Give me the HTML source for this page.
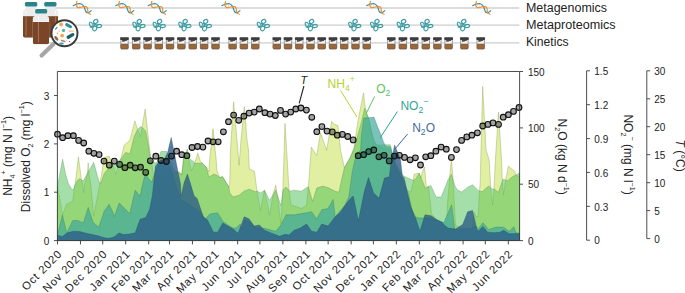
<!DOCTYPE html>
<html><head><meta charset="utf-8"><style>
html,body{margin:0;padding:0;background:#fff;}
svg{display:block;}
</style></head><body>
<svg width="685" height="293" viewBox="0 0 685 293" style="font-family:'Liberation Sans',sans-serif">
<rect width="685" height="293" fill="#fff"/>
<g id="legend-lines" stroke="#dcdcdc" stroke-width="1.8">
<line x1="45" y1="8.0" x2="519.3" y2="8.0"/>
<line x1="45" y1="25.1" x2="519.3" y2="25.1"/>
<line x1="45" y1="42.8" x2="519.3" y2="42.8"/>
</g>
<line x1="78.00" y1="4.30" x2="77.00" y2="7.20" stroke="#f0c8a0" stroke-width="0.6"/><line x1="80.00" y1="3.90" x2="79.70" y2="7.40" stroke="#f0c8a0" stroke-width="0.6"/><line x1="82.70" y1="4.80" x2="83.30" y2="6.90" stroke="#f0c8a0" stroke-width="0.6"/><line x1="84.90" y1="9.00" x2="87.10" y2="8.20" stroke="#f0c8a0" stroke-width="0.6"/><line x1="85.80" y1="11.40" x2="87.80" y2="10.80" stroke="#f0c8a0" stroke-width="0.6"/><line x1="87.70" y1="12.60" x2="88.30" y2="13.00" stroke="#f0c8a0" stroke-width="0.6"/><path d="M73.20,5.70 C73.83,5.42 75.75,4.33 77.00,4.00 C78.25,3.67 79.58,3.37 80.70,3.70 C81.82,4.03 82.97,5.00 83.70,6.00 C84.43,7.00 84.70,8.70 85.10,9.70 C85.50,10.70 85.57,11.50 86.10,12.00 C86.63,12.50 87.45,12.92 88.30,12.70 C89.15,12.48 90.72,11.03 91.20,10.70" fill="none" stroke="#2e8e9b" stroke-width="1.15" stroke-linecap="round"/><path d="M76.90,1.30 C76.80,1.72 76.38,3.02 76.30,3.80 C76.22,4.58 76.05,5.33 76.40,6.00 C76.75,6.67 77.38,7.67 78.40,7.80 C79.42,7.93 81.15,6.97 82.50,6.80 C83.85,6.63 85.63,6.35 86.50,6.80 C87.37,7.25 87.45,8.50 87.70,9.50 C87.95,10.50 87.52,12.02 88.00,12.80 C88.48,13.58 90.17,13.97 90.60,14.20" fill="none" stroke="#ef8a2e" stroke-width="1.15" stroke-linecap="round"/>
<line x1="120.50" y1="4.30" x2="119.50" y2="7.20" stroke="#f0c8a0" stroke-width="0.6"/><line x1="122.50" y1="3.90" x2="122.20" y2="7.40" stroke="#f0c8a0" stroke-width="0.6"/><line x1="125.20" y1="4.80" x2="125.80" y2="6.90" stroke="#f0c8a0" stroke-width="0.6"/><line x1="127.40" y1="9.00" x2="129.60" y2="8.20" stroke="#f0c8a0" stroke-width="0.6"/><line x1="128.30" y1="11.40" x2="130.30" y2="10.80" stroke="#f0c8a0" stroke-width="0.6"/><line x1="130.20" y1="12.60" x2="130.80" y2="13.00" stroke="#f0c8a0" stroke-width="0.6"/><path d="M115.70,5.70 C116.33,5.42 118.25,4.33 119.50,4.00 C120.75,3.67 122.08,3.37 123.20,3.70 C124.32,4.03 125.47,5.00 126.20,6.00 C126.93,7.00 127.20,8.70 127.60,9.70 C128.00,10.70 128.07,11.50 128.60,12.00 C129.13,12.50 129.95,12.92 130.80,12.70 C131.65,12.48 133.22,11.03 133.70,10.70" fill="none" stroke="#2e8e9b" stroke-width="1.15" stroke-linecap="round"/><path d="M119.40,1.30 C119.30,1.72 118.88,3.02 118.80,3.80 C118.72,4.58 118.55,5.33 118.90,6.00 C119.25,6.67 119.88,7.67 120.90,7.80 C121.92,7.93 123.65,6.97 125.00,6.80 C126.35,6.63 128.13,6.35 129.00,6.80 C129.87,7.25 129.95,8.50 130.20,9.50 C130.45,10.50 130.02,12.02 130.50,12.80 C130.98,13.58 132.67,13.97 133.10,14.20" fill="none" stroke="#ef8a2e" stroke-width="1.15" stroke-linecap="round"/>
<line x1="153.00" y1="4.30" x2="152.00" y2="7.20" stroke="#f0c8a0" stroke-width="0.6"/><line x1="155.00" y1="3.90" x2="154.70" y2="7.40" stroke="#f0c8a0" stroke-width="0.6"/><line x1="157.70" y1="4.80" x2="158.30" y2="6.90" stroke="#f0c8a0" stroke-width="0.6"/><line x1="159.90" y1="9.00" x2="162.10" y2="8.20" stroke="#f0c8a0" stroke-width="0.6"/><line x1="160.80" y1="11.40" x2="162.80" y2="10.80" stroke="#f0c8a0" stroke-width="0.6"/><line x1="162.70" y1="12.60" x2="163.30" y2="13.00" stroke="#f0c8a0" stroke-width="0.6"/><path d="M148.20,5.70 C148.83,5.42 150.75,4.33 152.00,4.00 C153.25,3.67 154.58,3.37 155.70,3.70 C156.82,4.03 157.97,5.00 158.70,6.00 C159.43,7.00 159.70,8.70 160.10,9.70 C160.50,10.70 160.57,11.50 161.10,12.00 C161.63,12.50 162.45,12.92 163.30,12.70 C164.15,12.48 165.72,11.03 166.20,10.70" fill="none" stroke="#2e8e9b" stroke-width="1.15" stroke-linecap="round"/><path d="M151.90,1.30 C151.80,1.72 151.38,3.02 151.30,3.80 C151.22,4.58 151.05,5.33 151.40,6.00 C151.75,6.67 152.38,7.67 153.40,7.80 C154.42,7.93 156.15,6.97 157.50,6.80 C158.85,6.63 160.63,6.35 161.50,6.80 C162.37,7.25 162.45,8.50 162.70,9.50 C162.95,10.50 162.52,12.02 163.00,12.80 C163.48,13.58 165.17,13.97 165.60,14.20" fill="none" stroke="#ef8a2e" stroke-width="1.15" stroke-linecap="round"/>
<line x1="226.70" y1="4.30" x2="225.70" y2="7.20" stroke="#f0c8a0" stroke-width="0.6"/><line x1="228.70" y1="3.90" x2="228.40" y2="7.40" stroke="#f0c8a0" stroke-width="0.6"/><line x1="231.40" y1="4.80" x2="232.00" y2="6.90" stroke="#f0c8a0" stroke-width="0.6"/><line x1="233.60" y1="9.00" x2="235.80" y2="8.20" stroke="#f0c8a0" stroke-width="0.6"/><line x1="234.50" y1="11.40" x2="236.50" y2="10.80" stroke="#f0c8a0" stroke-width="0.6"/><line x1="236.40" y1="12.60" x2="237.00" y2="13.00" stroke="#f0c8a0" stroke-width="0.6"/><path d="M221.90,5.70 C222.53,5.42 224.45,4.33 225.70,4.00 C226.95,3.67 228.28,3.37 229.40,3.70 C230.52,4.03 231.67,5.00 232.40,6.00 C233.13,7.00 233.40,8.70 233.80,9.70 C234.20,10.70 234.27,11.50 234.80,12.00 C235.33,12.50 236.15,12.92 237.00,12.70 C237.85,12.48 239.42,11.03 239.90,10.70" fill="none" stroke="#2e8e9b" stroke-width="1.15" stroke-linecap="round"/><path d="M225.60,1.30 C225.50,1.72 225.08,3.02 225.00,3.80 C224.92,4.58 224.75,5.33 225.10,6.00 C225.45,6.67 226.08,7.67 227.10,7.80 C228.12,7.93 229.85,6.97 231.20,6.80 C232.55,6.63 234.33,6.35 235.20,6.80 C236.07,7.25 236.15,8.50 236.40,9.50 C236.65,10.50 236.22,12.02 236.70,12.80 C237.18,13.58 238.87,13.97 239.30,14.20" fill="none" stroke="#ef8a2e" stroke-width="1.15" stroke-linecap="round"/>
<line x1="371.50" y1="4.30" x2="370.50" y2="7.20" stroke="#f0c8a0" stroke-width="0.6"/><line x1="373.50" y1="3.90" x2="373.20" y2="7.40" stroke="#f0c8a0" stroke-width="0.6"/><line x1="376.20" y1="4.80" x2="376.80" y2="6.90" stroke="#f0c8a0" stroke-width="0.6"/><line x1="378.40" y1="9.00" x2="380.60" y2="8.20" stroke="#f0c8a0" stroke-width="0.6"/><line x1="379.30" y1="11.40" x2="381.30" y2="10.80" stroke="#f0c8a0" stroke-width="0.6"/><line x1="381.20" y1="12.60" x2="381.80" y2="13.00" stroke="#f0c8a0" stroke-width="0.6"/><path d="M366.70,5.70 C367.33,5.42 369.25,4.33 370.50,4.00 C371.75,3.67 373.08,3.37 374.20,3.70 C375.32,4.03 376.47,5.00 377.20,6.00 C377.93,7.00 378.20,8.70 378.60,9.70 C379.00,10.70 379.07,11.50 379.60,12.00 C380.13,12.50 380.95,12.92 381.80,12.70 C382.65,12.48 384.22,11.03 384.70,10.70" fill="none" stroke="#2e8e9b" stroke-width="1.15" stroke-linecap="round"/><path d="M370.40,1.30 C370.30,1.72 369.88,3.02 369.80,3.80 C369.72,4.58 369.55,5.33 369.90,6.00 C370.25,6.67 370.88,7.67 371.90,7.80 C372.92,7.93 374.65,6.97 376.00,6.80 C377.35,6.63 379.13,6.35 380.00,6.80 C380.87,7.25 380.95,8.50 381.20,9.50 C381.45,10.50 381.02,12.02 381.50,12.80 C381.98,13.58 383.67,13.97 384.10,14.20" fill="none" stroke="#ef8a2e" stroke-width="1.15" stroke-linecap="round"/>
<line x1="477.50" y1="4.30" x2="476.50" y2="7.20" stroke="#f0c8a0" stroke-width="0.6"/><line x1="479.50" y1="3.90" x2="479.20" y2="7.40" stroke="#f0c8a0" stroke-width="0.6"/><line x1="482.20" y1="4.80" x2="482.80" y2="6.90" stroke="#f0c8a0" stroke-width="0.6"/><line x1="484.40" y1="9.00" x2="486.60" y2="8.20" stroke="#f0c8a0" stroke-width="0.6"/><line x1="485.30" y1="11.40" x2="487.30" y2="10.80" stroke="#f0c8a0" stroke-width="0.6"/><line x1="487.20" y1="12.60" x2="487.80" y2="13.00" stroke="#f0c8a0" stroke-width="0.6"/><path d="M472.70,5.70 C473.33,5.42 475.25,4.33 476.50,4.00 C477.75,3.67 479.08,3.37 480.20,3.70 C481.32,4.03 482.47,5.00 483.20,6.00 C483.93,7.00 484.20,8.70 484.60,9.70 C485.00,10.70 485.07,11.50 485.60,12.00 C486.13,12.50 486.95,12.92 487.80,12.70 C488.65,12.48 490.22,11.03 490.70,10.70" fill="none" stroke="#2e8e9b" stroke-width="1.15" stroke-linecap="round"/><path d="M476.40,1.30 C476.30,1.72 475.88,3.02 475.80,3.80 C475.72,4.58 475.55,5.33 475.90,6.00 C476.25,6.67 476.88,7.67 477.90,7.80 C478.92,7.93 480.65,6.97 482.00,6.80 C483.35,6.63 485.13,6.35 486.00,6.80 C486.87,7.25 486.95,8.50 487.20,9.50 C487.45,10.50 487.02,12.02 487.50,12.80 C487.98,13.58 489.67,13.97 490.10,14.20" fill="none" stroke="#ef8a2e" stroke-width="1.15" stroke-linecap="round"/>
<g fill="none" stroke="#3a9ca4" stroke-width="1.1"><ellipse cx="95.80" cy="21.40" rx="2.2" ry="1.9" transform="rotate(-30 95.80 21.40)"/><ellipse cx="91.30" cy="24.80" rx="1.6" ry="2.7" transform="rotate(-25 91.30 24.80)"/><ellipse cx="99.10" cy="26.00" rx="2.5" ry="1.6" transform="rotate(-10 99.10 26.00)"/><ellipse cx="94.70" cy="28.40" rx="2.0" ry="2.4" transform="rotate(20 94.70 28.40)"/><path d="M93.00,22.80 c1.5,1 2.3,2 1.8,4.2 M94.40,23.20 c1,1.4 2.3,1.6 3.6,2.2 M89.80,26.80 c1,0.5 1.8,-0.5 2.8,-1"/></g>
<g fill="none" stroke="#3a9ca4" stroke-width="1.1"><ellipse cx="139.30" cy="21.40" rx="2.2" ry="1.9" transform="rotate(-30 139.30 21.40)"/><ellipse cx="134.80" cy="24.80" rx="1.6" ry="2.7" transform="rotate(-25 134.80 24.80)"/><ellipse cx="142.60" cy="26.00" rx="2.5" ry="1.6" transform="rotate(-10 142.60 26.00)"/><ellipse cx="138.20" cy="28.40" rx="2.0" ry="2.4" transform="rotate(20 138.20 28.40)"/><path d="M136.50,22.80 c1.5,1 2.3,2 1.8,4.2 M137.90,23.20 c1,1.4 2.3,1.6 3.6,2.2 M133.30,26.80 c1,0.5 1.8,-0.5 2.8,-1"/></g>
<g fill="none" stroke="#3a9ca4" stroke-width="1.1"><ellipse cx="159.60" cy="21.40" rx="2.2" ry="1.9" transform="rotate(-30 159.60 21.40)"/><ellipse cx="155.10" cy="24.80" rx="1.6" ry="2.7" transform="rotate(-25 155.10 24.80)"/><ellipse cx="162.90" cy="26.00" rx="2.5" ry="1.6" transform="rotate(-10 162.90 26.00)"/><ellipse cx="158.50" cy="28.40" rx="2.0" ry="2.4" transform="rotate(20 158.50 28.40)"/><path d="M156.80,22.80 c1.5,1 2.3,2 1.8,4.2 M158.20,23.20 c1,1.4 2.3,1.6 3.6,2.2 M153.60,26.80 c1,0.5 1.8,-0.5 2.8,-1"/></g>
<g fill="none" stroke="#3a9ca4" stroke-width="1.1"><ellipse cx="185.20" cy="21.40" rx="2.2" ry="1.9" transform="rotate(-30 185.20 21.40)"/><ellipse cx="180.70" cy="24.80" rx="1.6" ry="2.7" transform="rotate(-25 180.70 24.80)"/><ellipse cx="188.50" cy="26.00" rx="2.5" ry="1.6" transform="rotate(-10 188.50 26.00)"/><ellipse cx="184.10" cy="28.40" rx="2.0" ry="2.4" transform="rotate(20 184.10 28.40)"/><path d="M182.40,22.80 c1.5,1 2.3,2 1.8,4.2 M183.80,23.20 c1,1.4 2.3,1.6 3.6,2.2 M179.20,26.80 c1,0.5 1.8,-0.5 2.8,-1"/></g>
<g fill="none" stroke="#3a9ca4" stroke-width="1.1"><ellipse cx="205.70" cy="21.40" rx="2.2" ry="1.9" transform="rotate(-30 205.70 21.40)"/><ellipse cx="201.20" cy="24.80" rx="1.6" ry="2.7" transform="rotate(-25 201.20 24.80)"/><ellipse cx="209.00" cy="26.00" rx="2.5" ry="1.6" transform="rotate(-10 209.00 26.00)"/><ellipse cx="204.60" cy="28.40" rx="2.0" ry="2.4" transform="rotate(20 204.60 28.40)"/><path d="M202.90,22.80 c1.5,1 2.3,2 1.8,4.2 M204.30,23.20 c1,1.4 2.3,1.6 3.6,2.2 M199.70,26.80 c1,0.5 1.8,-0.5 2.8,-1"/></g>
<g fill="none" stroke="#3a9ca4" stroke-width="1.1"><ellipse cx="263.70" cy="21.40" rx="2.2" ry="1.9" transform="rotate(-30 263.70 21.40)"/><ellipse cx="259.20" cy="24.80" rx="1.6" ry="2.7" transform="rotate(-25 259.20 24.80)"/><ellipse cx="267.00" cy="26.00" rx="2.5" ry="1.6" transform="rotate(-10 267.00 26.00)"/><ellipse cx="262.60" cy="28.40" rx="2.0" ry="2.4" transform="rotate(20 262.60 28.40)"/><path d="M260.90,22.80 c1.5,1 2.3,2 1.8,4.2 M262.30,23.20 c1,1.4 2.3,1.6 3.6,2.2 M257.70,26.80 c1,0.5 1.8,-0.5 2.8,-1"/></g>
<g fill="none" stroke="#3a9ca4" stroke-width="1.1"><ellipse cx="311.60" cy="21.40" rx="2.2" ry="1.9" transform="rotate(-30 311.60 21.40)"/><ellipse cx="307.10" cy="24.80" rx="1.6" ry="2.7" transform="rotate(-25 307.10 24.80)"/><ellipse cx="314.90" cy="26.00" rx="2.5" ry="1.6" transform="rotate(-10 314.90 26.00)"/><ellipse cx="310.50" cy="28.40" rx="2.0" ry="2.4" transform="rotate(20 310.50 28.40)"/><path d="M308.80,22.80 c1.5,1 2.3,2 1.8,4.2 M310.20,23.20 c1,1.4 2.3,1.6 3.6,2.2 M305.60,26.80 c1,0.5 1.8,-0.5 2.8,-1"/></g>
<g fill="none" stroke="#3a9ca4" stroke-width="1.1"><ellipse cx="355.10" cy="21.40" rx="2.2" ry="1.9" transform="rotate(-30 355.10 21.40)"/><ellipse cx="350.60" cy="24.80" rx="1.6" ry="2.7" transform="rotate(-25 350.60 24.80)"/><ellipse cx="358.40" cy="26.00" rx="2.5" ry="1.6" transform="rotate(-10 358.40 26.00)"/><ellipse cx="354.00" cy="28.40" rx="2.0" ry="2.4" transform="rotate(20 354.00 28.40)"/><path d="M352.30,22.80 c1.5,1 2.3,2 1.8,4.2 M353.70,23.20 c1,1.4 2.3,1.6 3.6,2.2 M349.10,26.80 c1,0.5 1.8,-0.5 2.8,-1"/></g>
<g fill="none" stroke="#3a9ca4" stroke-width="1.1"><ellipse cx="377.00" cy="21.40" rx="2.2" ry="1.9" transform="rotate(-30 377.00 21.40)"/><ellipse cx="372.50" cy="24.80" rx="1.6" ry="2.7" transform="rotate(-25 372.50 24.80)"/><ellipse cx="380.30" cy="26.00" rx="2.5" ry="1.6" transform="rotate(-10 380.30 26.00)"/><ellipse cx="375.90" cy="28.40" rx="2.0" ry="2.4" transform="rotate(20 375.90 28.40)"/><path d="M374.20,22.80 c1.5,1 2.3,2 1.8,4.2 M375.60,23.20 c1,1.4 2.3,1.6 3.6,2.2 M371.00,26.80 c1,0.5 1.8,-0.5 2.8,-1"/></g>
<g fill="none" stroke="#3a9ca4" stroke-width="1.1"><ellipse cx="403.60" cy="21.40" rx="2.2" ry="1.9" transform="rotate(-30 403.60 21.40)"/><ellipse cx="399.10" cy="24.80" rx="1.6" ry="2.7" transform="rotate(-25 399.10 24.80)"/><ellipse cx="406.90" cy="26.00" rx="2.5" ry="1.6" transform="rotate(-10 406.90 26.00)"/><ellipse cx="402.50" cy="28.40" rx="2.0" ry="2.4" transform="rotate(20 402.50 28.40)"/><path d="M400.80,22.80 c1.5,1 2.3,2 1.8,4.2 M402.20,23.20 c1,1.4 2.3,1.6 3.6,2.2 M397.60,26.80 c1,0.5 1.8,-0.5 2.8,-1"/></g>
<g fill="none" stroke="#3a9ca4" stroke-width="1.1"><ellipse cx="427.10" cy="21.40" rx="2.2" ry="1.9" transform="rotate(-30 427.10 21.40)"/><ellipse cx="422.60" cy="24.80" rx="1.6" ry="2.7" transform="rotate(-25 422.60 24.80)"/><ellipse cx="430.40" cy="26.00" rx="2.5" ry="1.6" transform="rotate(-10 430.40 26.00)"/><ellipse cx="426.00" cy="28.40" rx="2.0" ry="2.4" transform="rotate(20 426.00 28.40)"/><path d="M424.30,22.80 c1.5,1 2.3,2 1.8,4.2 M425.70,23.20 c1,1.4 2.3,1.6 3.6,2.2 M421.10,26.80 c1,0.5 1.8,-0.5 2.8,-1"/></g>
<g fill="none" stroke="#3a9ca4" stroke-width="1.1"><ellipse cx="463.80" cy="21.40" rx="2.2" ry="1.9" transform="rotate(-30 463.80 21.40)"/><ellipse cx="459.30" cy="24.80" rx="1.6" ry="2.7" transform="rotate(-25 459.30 24.80)"/><ellipse cx="467.10" cy="26.00" rx="2.5" ry="1.6" transform="rotate(-10 467.10 26.00)"/><ellipse cx="462.70" cy="28.40" rx="2.0" ry="2.4" transform="rotate(20 462.70 28.40)"/><path d="M461.00,22.80 c1.5,1 2.3,2 1.8,4.2 M462.40,23.20 c1,1.4 2.3,1.6 3.6,2.2 M457.80,26.80 c1,0.5 1.8,-0.5 2.8,-1"/></g>
<rect x="120.80" y="39.60" width="7.4" height="9.3" rx="0.9" fill="#f4f4f4" stroke="#767676" stroke-width="0.7"/><rect x="120.80" y="44.00" width="7.4" height="4.9" rx="0.9" fill="#9a683d" stroke="#6e4c31" stroke-width="0.5"/><path d="M122.10,39.70 h4.8 v1.0 c-0.8,0.7 -1.2,-0.2 -1.8,0.6 c-0.6,0.8 -1,0 -1.5,0.4 c-0.6,0.4 -1,-0.4 -1.5,0.1 z" fill="#4a4a4a"/><rect x="120.10" y="37.30" width="8.8" height="2.6" rx="0.7" fill="#3d3d3d"/><circle cx="121.80" cy="37.55" r="0.6" fill="#5a5a5a"/><circle cx="124.50" cy="37.55" r="0.6" fill="#5a5a5a"/><circle cx="127.20" cy="37.55" r="0.6" fill="#5a5a5a"/>
<rect x="132.50" y="39.60" width="7.4" height="9.3" rx="0.9" fill="#f4f4f4" stroke="#767676" stroke-width="0.7"/><rect x="132.50" y="44.00" width="7.4" height="4.9" rx="0.9" fill="#9a683d" stroke="#6e4c31" stroke-width="0.5"/><path d="M133.80,39.70 h4.8 v1.0 c-0.8,0.7 -1.2,-0.2 -1.8,0.6 c-0.6,0.8 -1,0 -1.5,0.4 c-0.6,0.4 -1,-0.4 -1.5,0.1 z" fill="#4a4a4a"/><rect x="131.80" y="37.30" width="8.8" height="2.6" rx="0.7" fill="#3d3d3d"/><circle cx="133.50" cy="37.55" r="0.6" fill="#5a5a5a"/><circle cx="136.20" cy="37.55" r="0.6" fill="#5a5a5a"/><circle cx="138.90" cy="37.55" r="0.6" fill="#5a5a5a"/>
<rect x="143.90" y="39.60" width="7.4" height="9.3" rx="0.9" fill="#f4f4f4" stroke="#767676" stroke-width="0.7"/><rect x="143.90" y="44.00" width="7.4" height="4.9" rx="0.9" fill="#9a683d" stroke="#6e4c31" stroke-width="0.5"/><path d="M145.20,39.70 h4.8 v1.0 c-0.8,0.7 -1.2,-0.2 -1.8,0.6 c-0.6,0.8 -1,0 -1.5,0.4 c-0.6,0.4 -1,-0.4 -1.5,0.1 z" fill="#4a4a4a"/><rect x="143.20" y="37.30" width="8.8" height="2.6" rx="0.7" fill="#3d3d3d"/><circle cx="144.90" cy="37.55" r="0.6" fill="#5a5a5a"/><circle cx="147.60" cy="37.55" r="0.6" fill="#5a5a5a"/><circle cx="150.30" cy="37.55" r="0.6" fill="#5a5a5a"/>
<rect x="155.10" y="39.60" width="7.4" height="9.3" rx="0.9" fill="#f4f4f4" stroke="#767676" stroke-width="0.7"/><rect x="155.10" y="44.00" width="7.4" height="4.9" rx="0.9" fill="#9a683d" stroke="#6e4c31" stroke-width="0.5"/><path d="M156.40,39.70 h4.8 v1.0 c-0.8,0.7 -1.2,-0.2 -1.8,0.6 c-0.6,0.8 -1,0 -1.5,0.4 c-0.6,0.4 -1,-0.4 -1.5,0.1 z" fill="#4a4a4a"/><rect x="154.40" y="37.30" width="8.8" height="2.6" rx="0.7" fill="#3d3d3d"/><circle cx="156.10" cy="37.55" r="0.6" fill="#5a5a5a"/><circle cx="158.80" cy="37.55" r="0.6" fill="#5a5a5a"/><circle cx="161.50" cy="37.55" r="0.6" fill="#5a5a5a"/>
<rect x="166.30" y="39.60" width="7.4" height="9.3" rx="0.9" fill="#f4f4f4" stroke="#767676" stroke-width="0.7"/><rect x="166.30" y="44.00" width="7.4" height="4.9" rx="0.9" fill="#9a683d" stroke="#6e4c31" stroke-width="0.5"/><path d="M167.60,39.70 h4.8 v1.0 c-0.8,0.7 -1.2,-0.2 -1.8,0.6 c-0.6,0.8 -1,0 -1.5,0.4 c-0.6,0.4 -1,-0.4 -1.5,0.1 z" fill="#4a4a4a"/><rect x="165.60" y="37.30" width="8.8" height="2.6" rx="0.7" fill="#3d3d3d"/><circle cx="167.30" cy="37.55" r="0.6" fill="#5a5a5a"/><circle cx="170.00" cy="37.55" r="0.6" fill="#5a5a5a"/><circle cx="172.70" cy="37.55" r="0.6" fill="#5a5a5a"/>
<rect x="177.70" y="39.60" width="7.4" height="9.3" rx="0.9" fill="#f4f4f4" stroke="#767676" stroke-width="0.7"/><rect x="177.70" y="44.00" width="7.4" height="4.9" rx="0.9" fill="#9a683d" stroke="#6e4c31" stroke-width="0.5"/><path d="M179.00,39.70 h4.8 v1.0 c-0.8,0.7 -1.2,-0.2 -1.8,0.6 c-0.6,0.8 -1,0 -1.5,0.4 c-0.6,0.4 -1,-0.4 -1.5,0.1 z" fill="#4a4a4a"/><rect x="177.00" y="37.30" width="8.8" height="2.6" rx="0.7" fill="#3d3d3d"/><circle cx="178.70" cy="37.55" r="0.6" fill="#5a5a5a"/><circle cx="181.40" cy="37.55" r="0.6" fill="#5a5a5a"/><circle cx="184.10" cy="37.55" r="0.6" fill="#5a5a5a"/>
<rect x="189.10" y="39.60" width="7.4" height="9.3" rx="0.9" fill="#f4f4f4" stroke="#767676" stroke-width="0.7"/><rect x="189.10" y="44.00" width="7.4" height="4.9" rx="0.9" fill="#9a683d" stroke="#6e4c31" stroke-width="0.5"/><path d="M190.40,39.70 h4.8 v1.0 c-0.8,0.7 -1.2,-0.2 -1.8,0.6 c-0.6,0.8 -1,0 -1.5,0.4 c-0.6,0.4 -1,-0.4 -1.5,0.1 z" fill="#4a4a4a"/><rect x="188.40" y="37.30" width="8.8" height="2.6" rx="0.7" fill="#3d3d3d"/><circle cx="190.10" cy="37.55" r="0.6" fill="#5a5a5a"/><circle cx="192.80" cy="37.55" r="0.6" fill="#5a5a5a"/><circle cx="195.50" cy="37.55" r="0.6" fill="#5a5a5a"/>
<rect x="200.40" y="39.60" width="7.4" height="9.3" rx="0.9" fill="#f4f4f4" stroke="#767676" stroke-width="0.7"/><rect x="200.40" y="44.00" width="7.4" height="4.9" rx="0.9" fill="#9a683d" stroke="#6e4c31" stroke-width="0.5"/><path d="M201.70,39.70 h4.8 v1.0 c-0.8,0.7 -1.2,-0.2 -1.8,0.6 c-0.6,0.8 -1,0 -1.5,0.4 c-0.6,0.4 -1,-0.4 -1.5,0.1 z" fill="#4a4a4a"/><rect x="199.70" y="37.30" width="8.8" height="2.6" rx="0.7" fill="#3d3d3d"/><circle cx="201.40" cy="37.55" r="0.6" fill="#5a5a5a"/><circle cx="204.10" cy="37.55" r="0.6" fill="#5a5a5a"/><circle cx="206.80" cy="37.55" r="0.6" fill="#5a5a5a"/>
<rect x="211.80" y="39.60" width="7.4" height="9.3" rx="0.9" fill="#f4f4f4" stroke="#767676" stroke-width="0.7"/><rect x="211.80" y="44.00" width="7.4" height="4.9" rx="0.9" fill="#9a683d" stroke="#6e4c31" stroke-width="0.5"/><path d="M213.10,39.70 h4.8 v1.0 c-0.8,0.7 -1.2,-0.2 -1.8,0.6 c-0.6,0.8 -1,0 -1.5,0.4 c-0.6,0.4 -1,-0.4 -1.5,0.1 z" fill="#4a4a4a"/><rect x="211.10" y="37.30" width="8.8" height="2.6" rx="0.7" fill="#3d3d3d"/><circle cx="212.80" cy="37.55" r="0.6" fill="#5a5a5a"/><circle cx="215.50" cy="37.55" r="0.6" fill="#5a5a5a"/><circle cx="218.20" cy="37.55" r="0.6" fill="#5a5a5a"/>
<rect x="228.90" y="39.60" width="7.4" height="9.3" rx="0.9" fill="#f4f4f4" stroke="#767676" stroke-width="0.7"/><rect x="228.90" y="44.00" width="7.4" height="4.9" rx="0.9" fill="#9a683d" stroke="#6e4c31" stroke-width="0.5"/><path d="M230.20,39.70 h4.8 v1.0 c-0.8,0.7 -1.2,-0.2 -1.8,0.6 c-0.6,0.8 -1,0 -1.5,0.4 c-0.6,0.4 -1,-0.4 -1.5,0.1 z" fill="#4a4a4a"/><rect x="228.20" y="37.30" width="8.8" height="2.6" rx="0.7" fill="#3d3d3d"/><circle cx="229.90" cy="37.55" r="0.6" fill="#5a5a5a"/><circle cx="232.60" cy="37.55" r="0.6" fill="#5a5a5a"/><circle cx="235.30" cy="37.55" r="0.6" fill="#5a5a5a"/>
<rect x="240.20" y="39.60" width="7.4" height="9.3" rx="0.9" fill="#f4f4f4" stroke="#767676" stroke-width="0.7"/><rect x="240.20" y="44.00" width="7.4" height="4.9" rx="0.9" fill="#9a683d" stroke="#6e4c31" stroke-width="0.5"/><path d="M241.50,39.70 h4.8 v1.0 c-0.8,0.7 -1.2,-0.2 -1.8,0.6 c-0.6,0.8 -1,0 -1.5,0.4 c-0.6,0.4 -1,-0.4 -1.5,0.1 z" fill="#4a4a4a"/><rect x="239.50" y="37.30" width="8.8" height="2.6" rx="0.7" fill="#3d3d3d"/><circle cx="241.20" cy="37.55" r="0.6" fill="#5a5a5a"/><circle cx="243.90" cy="37.55" r="0.6" fill="#5a5a5a"/><circle cx="246.60" cy="37.55" r="0.6" fill="#5a5a5a"/>
<rect x="251.60" y="39.60" width="7.4" height="9.3" rx="0.9" fill="#f4f4f4" stroke="#767676" stroke-width="0.7"/><rect x="251.60" y="44.00" width="7.4" height="4.9" rx="0.9" fill="#9a683d" stroke="#6e4c31" stroke-width="0.5"/><path d="M252.90,39.70 h4.8 v1.0 c-0.8,0.7 -1.2,-0.2 -1.8,0.6 c-0.6,0.8 -1,0 -1.5,0.4 c-0.6,0.4 -1,-0.4 -1.5,0.1 z" fill="#4a4a4a"/><rect x="250.90" y="37.30" width="8.8" height="2.6" rx="0.7" fill="#3d3d3d"/><circle cx="252.60" cy="37.55" r="0.6" fill="#5a5a5a"/><circle cx="255.30" cy="37.55" r="0.6" fill="#5a5a5a"/><circle cx="258.00" cy="37.55" r="0.6" fill="#5a5a5a"/>
<rect x="273.10" y="39.60" width="7.4" height="9.3" rx="0.9" fill="#f4f4f4" stroke="#767676" stroke-width="0.7"/><rect x="273.10" y="44.00" width="7.4" height="4.9" rx="0.9" fill="#9a683d" stroke="#6e4c31" stroke-width="0.5"/><path d="M274.40,39.70 h4.8 v1.0 c-0.8,0.7 -1.2,-0.2 -1.8,0.6 c-0.6,0.8 -1,0 -1.5,0.4 c-0.6,0.4 -1,-0.4 -1.5,0.1 z" fill="#4a4a4a"/><rect x="272.40" y="37.30" width="8.8" height="2.6" rx="0.7" fill="#3d3d3d"/><circle cx="274.10" cy="37.55" r="0.6" fill="#5a5a5a"/><circle cx="276.80" cy="37.55" r="0.6" fill="#5a5a5a"/><circle cx="279.50" cy="37.55" r="0.6" fill="#5a5a5a"/>
<rect x="284.30" y="39.60" width="7.4" height="9.3" rx="0.9" fill="#f4f4f4" stroke="#767676" stroke-width="0.7"/><rect x="284.30" y="44.00" width="7.4" height="4.9" rx="0.9" fill="#9a683d" stroke="#6e4c31" stroke-width="0.5"/><path d="M285.60,39.70 h4.8 v1.0 c-0.8,0.7 -1.2,-0.2 -1.8,0.6 c-0.6,0.8 -1,0 -1.5,0.4 c-0.6,0.4 -1,-0.4 -1.5,0.1 z" fill="#4a4a4a"/><rect x="283.60" y="37.30" width="8.8" height="2.6" rx="0.7" fill="#3d3d3d"/><circle cx="285.30" cy="37.55" r="0.6" fill="#5a5a5a"/><circle cx="288.00" cy="37.55" r="0.6" fill="#5a5a5a"/><circle cx="290.70" cy="37.55" r="0.6" fill="#5a5a5a"/>
<rect x="295.60" y="39.60" width="7.4" height="9.3" rx="0.9" fill="#f4f4f4" stroke="#767676" stroke-width="0.7"/><rect x="295.60" y="44.00" width="7.4" height="4.9" rx="0.9" fill="#9a683d" stroke="#6e4c31" stroke-width="0.5"/><path d="M296.90,39.70 h4.8 v1.0 c-0.8,0.7 -1.2,-0.2 -1.8,0.6 c-0.6,0.8 -1,0 -1.5,0.4 c-0.6,0.4 -1,-0.4 -1.5,0.1 z" fill="#4a4a4a"/><rect x="294.90" y="37.30" width="8.8" height="2.6" rx="0.7" fill="#3d3d3d"/><circle cx="296.60" cy="37.55" r="0.6" fill="#5a5a5a"/><circle cx="299.30" cy="37.55" r="0.6" fill="#5a5a5a"/><circle cx="302.00" cy="37.55" r="0.6" fill="#5a5a5a"/>
<rect x="306.80" y="39.60" width="7.4" height="9.3" rx="0.9" fill="#f4f4f4" stroke="#767676" stroke-width="0.7"/><rect x="306.80" y="44.00" width="7.4" height="4.9" rx="0.9" fill="#9a683d" stroke="#6e4c31" stroke-width="0.5"/><path d="M308.10,39.70 h4.8 v1.0 c-0.8,0.7 -1.2,-0.2 -1.8,0.6 c-0.6,0.8 -1,0 -1.5,0.4 c-0.6,0.4 -1,-0.4 -1.5,0.1 z" fill="#4a4a4a"/><rect x="306.10" y="37.30" width="8.8" height="2.6" rx="0.7" fill="#3d3d3d"/><circle cx="307.80" cy="37.55" r="0.6" fill="#5a5a5a"/><circle cx="310.50" cy="37.55" r="0.6" fill="#5a5a5a"/><circle cx="313.20" cy="37.55" r="0.6" fill="#5a5a5a"/>
<rect x="318.00" y="39.60" width="7.4" height="9.3" rx="0.9" fill="#f4f4f4" stroke="#767676" stroke-width="0.7"/><rect x="318.00" y="44.00" width="7.4" height="4.9" rx="0.9" fill="#9a683d" stroke="#6e4c31" stroke-width="0.5"/><path d="M319.30,39.70 h4.8 v1.0 c-0.8,0.7 -1.2,-0.2 -1.8,0.6 c-0.6,0.8 -1,0 -1.5,0.4 c-0.6,0.4 -1,-0.4 -1.5,0.1 z" fill="#4a4a4a"/><rect x="317.30" y="37.30" width="8.8" height="2.6" rx="0.7" fill="#3d3d3d"/><circle cx="319.00" cy="37.55" r="0.6" fill="#5a5a5a"/><circle cx="321.70" cy="37.55" r="0.6" fill="#5a5a5a"/><circle cx="324.40" cy="37.55" r="0.6" fill="#5a5a5a"/>
<rect x="329.30" y="39.60" width="7.4" height="9.3" rx="0.9" fill="#f4f4f4" stroke="#767676" stroke-width="0.7"/><rect x="329.30" y="44.00" width="7.4" height="4.9" rx="0.9" fill="#9a683d" stroke="#6e4c31" stroke-width="0.5"/><path d="M330.60,39.70 h4.8 v1.0 c-0.8,0.7 -1.2,-0.2 -1.8,0.6 c-0.6,0.8 -1,0 -1.5,0.4 c-0.6,0.4 -1,-0.4 -1.5,0.1 z" fill="#4a4a4a"/><rect x="328.60" y="37.30" width="8.8" height="2.6" rx="0.7" fill="#3d3d3d"/><circle cx="330.30" cy="37.55" r="0.6" fill="#5a5a5a"/><circle cx="333.00" cy="37.55" r="0.6" fill="#5a5a5a"/><circle cx="335.70" cy="37.55" r="0.6" fill="#5a5a5a"/>
<rect x="340.50" y="39.60" width="7.4" height="9.3" rx="0.9" fill="#f4f4f4" stroke="#767676" stroke-width="0.7"/><rect x="340.50" y="44.00" width="7.4" height="4.9" rx="0.9" fill="#9a683d" stroke="#6e4c31" stroke-width="0.5"/><path d="M341.80,39.70 h4.8 v1.0 c-0.8,0.7 -1.2,-0.2 -1.8,0.6 c-0.6,0.8 -1,0 -1.5,0.4 c-0.6,0.4 -1,-0.4 -1.5,0.1 z" fill="#4a4a4a"/><rect x="339.80" y="37.30" width="8.8" height="2.6" rx="0.7" fill="#3d3d3d"/><circle cx="341.50" cy="37.55" r="0.6" fill="#5a5a5a"/><circle cx="344.20" cy="37.55" r="0.6" fill="#5a5a5a"/><circle cx="346.90" cy="37.55" r="0.6" fill="#5a5a5a"/>
<rect x="351.80" y="39.60" width="7.4" height="9.3" rx="0.9" fill="#f4f4f4" stroke="#767676" stroke-width="0.7"/><rect x="351.80" y="44.00" width="7.4" height="4.9" rx="0.9" fill="#9a683d" stroke="#6e4c31" stroke-width="0.5"/><path d="M353.10,39.70 h4.8 v1.0 c-0.8,0.7 -1.2,-0.2 -1.8,0.6 c-0.6,0.8 -1,0 -1.5,0.4 c-0.6,0.4 -1,-0.4 -1.5,0.1 z" fill="#4a4a4a"/><rect x="351.10" y="37.30" width="8.8" height="2.6" rx="0.7" fill="#3d3d3d"/><circle cx="352.80" cy="37.55" r="0.6" fill="#5a5a5a"/><circle cx="355.50" cy="37.55" r="0.6" fill="#5a5a5a"/><circle cx="358.20" cy="37.55" r="0.6" fill="#5a5a5a"/>
<rect x="363.00" y="39.60" width="7.4" height="9.3" rx="0.9" fill="#f4f4f4" stroke="#767676" stroke-width="0.7"/><rect x="363.00" y="44.00" width="7.4" height="4.9" rx="0.9" fill="#9a683d" stroke="#6e4c31" stroke-width="0.5"/><path d="M364.30,39.70 h4.8 v1.0 c-0.8,0.7 -1.2,-0.2 -1.8,0.6 c-0.6,0.8 -1,0 -1.5,0.4 c-0.6,0.4 -1,-0.4 -1.5,0.1 z" fill="#4a4a4a"/><rect x="362.30" y="37.30" width="8.8" height="2.6" rx="0.7" fill="#3d3d3d"/><circle cx="364.00" cy="37.55" r="0.6" fill="#5a5a5a"/><circle cx="366.70" cy="37.55" r="0.6" fill="#5a5a5a"/><circle cx="369.40" cy="37.55" r="0.6" fill="#5a5a5a"/>
<rect x="387.60" y="39.60" width="7.4" height="9.3" rx="0.9" fill="#f4f4f4" stroke="#767676" stroke-width="0.7"/><rect x="387.60" y="44.00" width="7.4" height="4.9" rx="0.9" fill="#9a683d" stroke="#6e4c31" stroke-width="0.5"/><path d="M388.90,39.70 h4.8 v1.0 c-0.8,0.7 -1.2,-0.2 -1.8,0.6 c-0.6,0.8 -1,0 -1.5,0.4 c-0.6,0.4 -1,-0.4 -1.5,0.1 z" fill="#4a4a4a"/><rect x="386.90" y="37.30" width="8.8" height="2.6" rx="0.7" fill="#3d3d3d"/><circle cx="388.60" cy="37.55" r="0.6" fill="#5a5a5a"/><circle cx="391.30" cy="37.55" r="0.6" fill="#5a5a5a"/><circle cx="394.00" cy="37.55" r="0.6" fill="#5a5a5a"/>
<rect x="399.20" y="39.60" width="7.4" height="9.3" rx="0.9" fill="#f4f4f4" stroke="#767676" stroke-width="0.7"/><rect x="399.20" y="44.00" width="7.4" height="4.9" rx="0.9" fill="#9a683d" stroke="#6e4c31" stroke-width="0.5"/><path d="M400.50,39.70 h4.8 v1.0 c-0.8,0.7 -1.2,-0.2 -1.8,0.6 c-0.6,0.8 -1,0 -1.5,0.4 c-0.6,0.4 -1,-0.4 -1.5,0.1 z" fill="#4a4a4a"/><rect x="398.50" y="37.30" width="8.8" height="2.6" rx="0.7" fill="#3d3d3d"/><circle cx="400.20" cy="37.55" r="0.6" fill="#5a5a5a"/><circle cx="402.90" cy="37.55" r="0.6" fill="#5a5a5a"/><circle cx="405.60" cy="37.55" r="0.6" fill="#5a5a5a"/>
<rect x="410.50" y="39.60" width="7.4" height="9.3" rx="0.9" fill="#f4f4f4" stroke="#767676" stroke-width="0.7"/><rect x="410.50" y="44.00" width="7.4" height="4.9" rx="0.9" fill="#9a683d" stroke="#6e4c31" stroke-width="0.5"/><path d="M411.80,39.70 h4.8 v1.0 c-0.8,0.7 -1.2,-0.2 -1.8,0.6 c-0.6,0.8 -1,0 -1.5,0.4 c-0.6,0.4 -1,-0.4 -1.5,0.1 z" fill="#4a4a4a"/><rect x="409.80" y="37.30" width="8.8" height="2.6" rx="0.7" fill="#3d3d3d"/><circle cx="411.50" cy="37.55" r="0.6" fill="#5a5a5a"/><circle cx="414.20" cy="37.55" r="0.6" fill="#5a5a5a"/><circle cx="416.90" cy="37.55" r="0.6" fill="#5a5a5a"/>
<rect x="422.10" y="39.60" width="7.4" height="9.3" rx="0.9" fill="#f4f4f4" stroke="#767676" stroke-width="0.7"/><rect x="422.10" y="44.00" width="7.4" height="4.9" rx="0.9" fill="#9a683d" stroke="#6e4c31" stroke-width="0.5"/><path d="M423.40,39.70 h4.8 v1.0 c-0.8,0.7 -1.2,-0.2 -1.8,0.6 c-0.6,0.8 -1,0 -1.5,0.4 c-0.6,0.4 -1,-0.4 -1.5,0.1 z" fill="#4a4a4a"/><rect x="421.40" y="37.30" width="8.8" height="2.6" rx="0.7" fill="#3d3d3d"/><circle cx="423.10" cy="37.55" r="0.6" fill="#5a5a5a"/><circle cx="425.80" cy="37.55" r="0.6" fill="#5a5a5a"/><circle cx="428.50" cy="37.55" r="0.6" fill="#5a5a5a"/>
<rect x="433.70" y="39.60" width="7.4" height="9.3" rx="0.9" fill="#f4f4f4" stroke="#767676" stroke-width="0.7"/><rect x="433.70" y="44.00" width="7.4" height="4.9" rx="0.9" fill="#9a683d" stroke="#6e4c31" stroke-width="0.5"/><path d="M435.00,39.70 h4.8 v1.0 c-0.8,0.7 -1.2,-0.2 -1.8,0.6 c-0.6,0.8 -1,0 -1.5,0.4 c-0.6,0.4 -1,-0.4 -1.5,0.1 z" fill="#4a4a4a"/><rect x="433.00" y="37.30" width="8.8" height="2.6" rx="0.7" fill="#3d3d3d"/><circle cx="434.70" cy="37.55" r="0.6" fill="#5a5a5a"/><circle cx="437.40" cy="37.55" r="0.6" fill="#5a5a5a"/><circle cx="440.10" cy="37.55" r="0.6" fill="#5a5a5a"/>
<rect x="444.90" y="39.60" width="7.4" height="9.3" rx="0.9" fill="#f4f4f4" stroke="#767676" stroke-width="0.7"/><rect x="444.90" y="44.00" width="7.4" height="4.9" rx="0.9" fill="#9a683d" stroke="#6e4c31" stroke-width="0.5"/><path d="M446.20,39.70 h4.8 v1.0 c-0.8,0.7 -1.2,-0.2 -1.8,0.6 c-0.6,0.8 -1,0 -1.5,0.4 c-0.6,0.4 -1,-0.4 -1.5,0.1 z" fill="#4a4a4a"/><rect x="444.20" y="37.30" width="8.8" height="2.6" rx="0.7" fill="#3d3d3d"/><circle cx="445.90" cy="37.55" r="0.6" fill="#5a5a5a"/><circle cx="448.60" cy="37.55" r="0.6" fill="#5a5a5a"/><circle cx="451.30" cy="37.55" r="0.6" fill="#5a5a5a"/>
<rect x="460.70" y="39.60" width="7.4" height="9.3" rx="0.9" fill="#f4f4f4" stroke="#767676" stroke-width="0.7"/><rect x="460.70" y="44.00" width="7.4" height="4.9" rx="0.9" fill="#9a683d" stroke="#6e4c31" stroke-width="0.5"/><path d="M462.00,39.70 h4.8 v1.0 c-0.8,0.7 -1.2,-0.2 -1.8,0.6 c-0.6,0.8 -1,0 -1.5,0.4 c-0.6,0.4 -1,-0.4 -1.5,0.1 z" fill="#4a4a4a"/><rect x="460.00" y="37.30" width="8.8" height="2.6" rx="0.7" fill="#3d3d3d"/><circle cx="461.70" cy="37.55" r="0.6" fill="#5a5a5a"/><circle cx="464.40" cy="37.55" r="0.6" fill="#5a5a5a"/><circle cx="467.10" cy="37.55" r="0.6" fill="#5a5a5a"/>
<rect x="477.00" y="39.60" width="7.4" height="9.3" rx="0.9" fill="#f4f4f4" stroke="#767676" stroke-width="0.7"/><rect x="477.00" y="44.00" width="7.4" height="4.9" rx="0.9" fill="#9a683d" stroke="#6e4c31" stroke-width="0.5"/><path d="M478.30,39.70 h4.8 v1.0 c-0.8,0.7 -1.2,-0.2 -1.8,0.6 c-0.6,0.8 -1,0 -1.5,0.4 c-0.6,0.4 -1,-0.4 -1.5,0.1 z" fill="#4a4a4a"/><rect x="476.30" y="37.30" width="8.8" height="2.6" rx="0.7" fill="#3d3d3d"/><circle cx="478.00" cy="37.55" r="0.6" fill="#5a5a5a"/><circle cx="480.70" cy="37.55" r="0.6" fill="#5a5a5a"/><circle cx="483.40" cy="37.55" r="0.6" fill="#5a5a5a"/>
<clipPath id="bc229"><path d="M25.90,6.60 L25.90,8.00 C25.90,9.50 22.90,10.00 22.90,12.50 L22.90,35.10 Q22.90,37.70 25.50,37.70 L35.90,37.70 Q38.50,37.70 38.50,35.10 L38.50,12.50 C38.50,10.00 36.30,9.50 36.30,8.00 L36.30,6.60 Z"/></clipPath><path d="M25.90,6.60 L25.90,8.00 C25.90,9.50 22.90,10.00 22.90,12.50 L22.90,35.10 Q22.90,37.70 25.50,37.70 L35.90,37.70 Q38.50,37.70 38.50,35.10 L38.50,12.50 C38.50,10.00 36.30,9.50 36.30,8.00 L36.30,6.60 Z" fill="#ececec"/><g clip-path="url(#bc229)"><rect x="22.90" y="15.80" width="15.60" height="21.90" fill="#7b4628"/><rect x="22.90" y="15.20" width="15.60" height="1.0" fill="#f6f6f6"/><rect x="25.60" y="16.30" width="0.9" height="19.40" fill="#a57a5e"/><rect x="25.60" y="11.00" width="0.9" height="3.30" fill="#ffffff"/></g><rect x="24.90" y="2.00" width="12.40" height="4.60" rx="1.5" fill="#2a8589"/>
<clipPath id="bc426"><path d="M45.20,6.60 L45.20,8.00 C45.20,9.50 42.60,10.00 42.60,12.50 L42.60,35.10 Q42.60,37.70 45.20,37.70 L55.60,37.70 Q58.20,37.70 58.20,35.10 L58.20,12.50 C58.20,10.00 55.50,9.50 55.50,8.00 L55.50,6.60 Z"/></clipPath><path d="M45.20,6.60 L45.20,8.00 C45.20,9.50 42.60,10.00 42.60,12.50 L42.60,35.10 Q42.60,37.70 45.20,37.70 L55.60,37.70 Q58.20,37.70 58.20,35.10 L58.20,12.50 C58.20,10.00 55.50,9.50 55.50,8.00 L55.50,6.60 Z" fill="#ececec"/><g clip-path="url(#bc426)"><rect x="42.60" y="15.80" width="15.60" height="21.90" fill="#7b4628"/><rect x="42.60" y="15.20" width="15.60" height="1.0" fill="#f6f6f6"/><rect x="55.20" y="16.30" width="0.9" height="19.40" fill="#a57a5e"/><rect x="55.20" y="11.00" width="0.9" height="3.30" fill="#ffffff"/></g><rect x="44.20" y="2.00" width="12.30" height="4.60" rx="1.5" fill="#2a8589"/>
<clipPath id="bc328"><path d="M36.20,13.40 L36.20,14.60 C36.20,16.10 32.80,16.10 32.80,18.60 L32.80,41.70 Q32.80,44.30 35.40,44.30 L46.50,44.30 Q49.10,44.30 49.10,41.70 L49.10,18.60 C49.10,16.10 46.20,16.10 46.20,14.60 L46.20,13.40 Z"/></clipPath><path d="M36.20,13.40 L36.20,14.60 C36.20,16.10 32.80,16.10 32.80,18.60 L32.80,41.70 Q32.80,44.30 35.40,44.30 L46.50,44.30 Q49.10,44.30 49.10,41.70 L49.10,18.60 C49.10,16.10 46.20,16.10 46.20,14.60 L46.20,13.40 Z" fill="#ececec"/><g clip-path="url(#bc328)"><rect x="32.80" y="21.60" width="16.30" height="22.70" fill="#7b4628"/><rect x="32.80" y="21.00" width="16.30" height="1.0" fill="#f6f6f6"/><rect x="38.00" y="22.10" width="0.9" height="20.20" fill="#a57a5e"/><rect x="38.00" y="17.10" width="0.9" height="3.00" fill="#ffffff"/></g><rect x="35.20" y="9.00" width="12.00" height="4.40" rx="1.5" fill="#2a8589"/>
<line x1="53.5" y1="44" x2="41.6" y2="55.6" stroke="#a6a6a6" stroke-width="4.2" stroke-linecap="round"/>
<circle cx="64.5" cy="33.3" r="13.0" fill="#ffffff" stroke="#3a3a3a" stroke-width="1.9"/>
<g><circle cx="64" cy="33.5" r="6.3" fill="none" stroke="#f3c794" stroke-width="0.5" stroke-dasharray="1.1 0.9"/><rect x="64.9" y="24.2" width="7.4" height="3.0" rx="1.5" fill="#2a8fa0" transform="rotate(30 68.6 25.7)"/><rect x="66.2" y="34.3" width="8.6" height="3.3" rx="1.65" fill="#1d5f66" transform="rotate(-30 70.5 36)"/><circle cx="61.1" cy="24.5" r="1.9" fill="#f2a54a"/><circle cx="63.5" cy="30.4" r="1.6" fill="#52adb8"/><circle cx="62.1" cy="35.6" r="1.9" fill="#f2a54a"/><circle cx="57.5" cy="33.2" r="0.8" fill="#f2a54a"/><circle cx="59.3" cy="31" r="0.6" fill="#f2a54a"/><ellipse cx="56.3" cy="38.4" rx="2.7" ry="1.4" fill="#8c6450" transform="rotate(50 56.3 38.4)"/><ellipse cx="63.2" cy="41" rx="2.6" ry="0.9" fill="#b08070" transform="rotate(15 63.2 41)"/><ellipse cx="61.5" cy="43.6" rx="2.4" ry="1.1" fill="#3aa0b0"/><rect x="54.6" y="27.8" width="3.4" height="1.1" rx="0.55" fill="#2a8c97" transform="rotate(-50 56.3 28.3)"/><line x1="68.8" y1="31.1" x2="73.7" y2="31.1" stroke="#f2a54a" stroke-width="0.9"/><circle cx="69.5" cy="41.6" r="0.7" fill="#2a5f80"/><circle cx="66.8" cy="40.5" r="0.5" fill="#f2a54a"/></g>
<text x="526" y="12.0" font-size="12" fill="#222" textLength="81.0" lengthAdjust="spacingAndGlyphs" style="font-family:'Liberation Sans',sans-serif">Metagenomics</text>
<text x="526" y="28.9" font-size="12" fill="#222" textLength="89.6" lengthAdjust="spacingAndGlyphs" style="font-family:'Liberation Sans',sans-serif">Metaproteomics</text>
<text x="526" y="45.8" font-size="12" fill="#222" textLength="42.6" lengthAdjust="spacingAndGlyphs" style="font-family:'Liberation Sans',sans-serif">Kinetics</text>
<polygon points="57.5,240.5 57.5,186.0 62.7,215.0 66.5,204.2 72.7,201.2 74.2,189.6 76.0,178.0 78.4,156.8 81.4,179.5 82.5,184.0 83.5,192.6 84.5,184.0 87.3,175.0 88.2,162.9 89.1,175.0 90.7,184.0 93.7,216.0 99.9,184.0 101.7,173.4 104.2,157.4 109.1,156.2 111.0,162.0 112.8,165.0 115.8,174.4 118.5,165.0 120.6,160.0 124.2,145.2 129.9,140.2 134.9,120.9 137.5,129.5 140.7,136.6 142.1,127.3 145.2,109.0 148.5,140.0 150.0,152.4 151.5,162.0 153.0,172.0 156.0,175.0 170.0,176.0 175.7,172.0 179.4,172.0 181.8,174.8 183.7,157.5 187.4,155.0 189.2,161.2 191.3,171.0 194.5,164.0 195.4,161.0 197.8,153.3 200.3,161.0 202.1,163.0 206.4,167.3 208.9,172.0 209.5,161.0 213.0,128.7 216.3,161.0 216.9,171.0 220.0,177.8 222.4,176.5 225.8,182.0 228.9,187.1 229.7,186.0 230.5,150.0 233.6,101.8 237.0,140.0 239.1,165.4 241.0,140.0 244.3,106.5 247.0,140.0 248.5,150.0 249.3,168.8 254.4,171.3 257.0,191.0 260.4,210.7 264.5,190.2 269.6,214.8 273.0,195.0 275.7,185.0 278.0,200.0 280.9,224.0 282.9,190.0 285.0,123.3 289.0,190.0 291.0,205.0 296.2,206.6 301.4,208.6 306.5,205.6 308.5,185.0 311.3,147.1 316.7,155.7 320.5,132.8 326.6,150.2 331.7,121.5 334.0,124.0 337.9,125.6 339.9,144.0 340.5,150.0 344.4,167.8 350.0,158.0 354.0,148.0 357.8,122.0 363.5,92.9 365.1,106.5 367.0,114.4 369.4,122.0 373.7,140.4 377.0,146.0 384.0,148.0 390.0,150.0 395.0,160.0 400.0,170.0 403.7,182.0 407.0,190.0 410.7,192.2 413.0,183.0 414.1,174.2 417.0,173.5 419.2,173.2 421.0,178.0 422.3,172.0 424.5,167.0 426.4,187.6 428.5,186.0 431.5,214.0 436.0,219.0 441.0,222.0 446.5,224.0 447.4,205.0 449.8,176.0 451.4,158.8 452.8,176.0 455.4,225.0 460.0,228.0 466.0,228.0 472.0,228.0 474.4,212.3 476.0,216.6 478.1,216.6 479.4,190.9 480.1,185.0 482.7,86.4 486.0,150.0 489.2,160.0 490.8,189.2 492.6,205.0 494.0,189.0 495.4,160.0 498.5,112.0 501.5,160.0 502.3,180.0 503.5,195.0 505.3,182.0 508.4,166.1 514.6,171.5 516.0,176.0 519.5,176.0 519.5,240.5" fill="#e0efa1" fill-opacity="1.0" stroke="#8fa352" stroke-opacity="0.75" stroke-width="0.55" stroke-linejoin="miter"/>
<polygon points="57.5,240.5 57.5,186.0 62.6,159.2 65.8,175.0 68.5,184.0 72.0,189.5 73.5,189.6 74.5,186.0 77.3,180.4 79.6,178.8 81.4,180.1 83.3,180.8 88.2,172.0 93.7,162.3 99.3,182.6 101.0,183.0 104.2,173.4 108.0,169.0 112.0,164.0 115.8,164.5 119.5,160.0 121.0,159.0 125.6,152.4 129.9,153.8 134.2,136.6 137.5,129.5 140.7,126.6 142.1,127.3 145.7,130.9 148.5,146.7 150.0,156.0 152.1,162.1 156.6,163.0 161.0,151.5 166.5,151.5 169.0,158.0 172.0,165.0 175.7,172.0 179.4,173.0 181.8,174.8 183.7,157.5 187.4,149.0 189.2,158.0 191.3,160.0 194.0,162.0 194.8,163.6 202.1,163.0 206.4,167.3 208.9,177.1 213.8,174.1 216.9,175.3 220.0,177.8 222.4,176.5 225.8,182.0 228.9,187.1 229.7,192.7 233.1,197.0 239.1,195.2 244.2,191.0 249.3,189.2 255.3,191.8 257.0,191.0 260.4,193.0 264.5,190.2 269.6,200.4 275.7,190.2 280.9,205.6 283.0,190.0 286.0,187.1 290.0,191.2 294.2,190.2 301.4,191.2 307.5,187.1 308.5,187.1 312.6,201.5 316.7,188.1 322.9,186.1 329.0,188.1 335.2,191.2 338.9,192.2 341.5,180.0 344.4,167.8 350.0,158.0 354.0,149.0 356.5,140.0 361.4,122.0 364.6,108.2 368.5,118.1 370.8,129.0 374.0,140.9 377.0,145.0 384.0,144.8 390.4,144.8 392.0,152.0 396.0,165.0 400.0,172.0 403.7,176.1 408.0,178.0 413.5,180.5 415.1,179.4 419.2,173.2 422.0,180.0 425.4,188.6 430.8,185.4 436.3,197.1 441.2,197.1 444.0,190.0 448.0,179.8 451.4,174.3 455.0,186.0 457.2,189.7 461.5,192.1 467.7,187.2 472.6,184.8 478.7,190.9 482.4,191.5 488.6,186.0 491.5,188.4 492.6,189.0 494.6,189.2 498.4,192.3 503.0,179.2 507.6,180.7 512.0,177.0 519.5,173.0 519.5,240.5" fill="rgb(73,189,81)" fill-opacity="0.5" stroke="#3d7a3a" stroke-opacity="0.5" stroke-width="0.55" stroke-linejoin="miter"/>
<polygon points="57.5,240.5 57.5,234.6 62.4,214.9 66.7,232.8 72.8,220.5 77.8,220.5 83.3,222.9 88.2,207.4 93.1,222.3 98.7,227.2 104.2,211.2 109.1,204.3 112.8,212.0 114.3,216.6 119.2,203.1 129.7,213.5 135.2,190.2 140.1,196.3 142.6,184.0 145.5,173.5 148.0,178.0 151.7,182.1 156.0,170.0 160.0,163.0 167.0,163.0 171.0,168.0 176.0,185.0 181.0,200.0 190.0,205.0 200.0,212.0 205.3,218.9 210.0,214.0 217.6,212.7 222.7,221.0 227.9,225.0 233.0,228.0 236.0,228.0 240.2,224.0 242.0,230.0 244.3,220.0 250.0,222.0 256.0,228.0 263.4,228.1 275.7,231.2 280.9,225.0 286.0,214.8 294.2,214.8 300.3,213.8 306.5,212.7 311.6,211.7 316.7,218.9 321.8,209.7 328.0,208.6 333.1,199.4 335.2,216.8 340.0,211.0 345.0,205.0 348.9,196.7 352.2,172.2 356.0,155.0 360.6,150.0 361.4,135.4 363.8,118.1 374.0,117.3 377.9,127.5 381.8,137.0 383.4,141.7 385.8,146.4 390.4,147.0 391.9,152.3 395.0,165.0 400.0,175.0 404.0,182.0 408.6,194.3 411.7,208.6 413.8,216.8 419.0,218.0 424.0,217.9 430.0,218.0 436.0,220.0 443.7,222.8 451.7,204.9 454.8,229.5 460.0,229.0 470.0,229.0 476.0,226.1 478.1,228.9 483.0,222.8 488.6,229.5 496.5,227.1 503.6,227.2 509.2,231.3 513.8,226.7 515.9,232.8 519.5,233.0 519.5,240.5" fill="rgb(61,168,154)" fill-opacity="0.686" stroke="#2b6a55" stroke-opacity="0.55" stroke-width="0.55" stroke-linejoin="miter"/>
<polygon points="57.5,240.5 57.5,235.2 62.4,236.4 67.3,232.8 73.5,231.2 79.6,231.5 87.0,233.4 98.0,235.8 104.2,237.7 109.1,238.3 114.0,237.0 119.2,233.1 123.5,234.6 129.7,234.0 135.2,232.8 140.1,219.2 145.7,217.4 149.4,210.0 152.3,196.0 154.0,180.0 155.4,166.0 159.7,161.0 164.0,159.5 167.5,153.0 171.2,137.4 175.7,160.0 178.1,172.3 180.6,184.6 181.1,196.3 184.0,183.0 187.4,174.1 190.0,182.0 194.1,196.0 197.1,198.4 203.3,216.8 207.4,219.9 213.5,232.2 217.6,232.2 222.7,223.0 227.9,226.1 233.0,229.1 238.1,233.2 244.3,216.8 249.1,218.9 254.2,226.1 259.3,225.0 264.5,230.2 271.6,233.2 279.8,236.3 285.0,234.3 289.0,234.9 294.2,230.2 300.3,228.1 306.5,224.0 311.6,231.2 316.7,232.2 321.8,224.0 328.0,226.1 335.2,216.8 340.0,212.7 347.2,202.5 352.2,196.7 353.3,196.3 358.4,221.0 364.2,192.1 368.5,177.4 373.5,192.8 379.0,198.3 384.5,178.0 389.4,176.8 390.7,165.0 394.6,144.9 400.5,159.7 402.4,176.0 404.2,178.0 407.6,194.3 410.7,206.6 414.8,215.8 419.9,231.2 425.0,214.8 431.2,215.8 436.9,219.7 441.8,222.1 444.2,225.0 448.3,228.1 455.5,229.1 462.7,224.6 467.7,211.7 472.6,210.5 475.0,220.9 476.9,228.9 478.0,231.2 483.0,226.4 487.6,232.2 493.7,232.7 500.0,232.3 503.6,230.2 509.2,233.8 515.7,233.6 519.5,233.8 519.5,240.5" fill="rgb(45,94,136)" fill-opacity="0.8" stroke="#1e4560" stroke-opacity="0.6" stroke-width="0.55" stroke-linejoin="miter"/>
<g fill="#000" fill-opacity="0.36" stroke="#111" stroke-width="1.1">
<circle cx="57.5" cy="134.2" r="2.85"/>
<circle cx="62.6" cy="137.7" r="2.85"/>
<circle cx="67.9" cy="135.7" r="2.85"/>
<circle cx="73.4" cy="135.7" r="2.85"/>
<circle cx="78.6" cy="140.4" r="2.85"/>
<circle cx="83.7" cy="143" r="2.85"/>
<circle cx="88.8" cy="151.2" r="2.85"/>
<circle cx="93.9" cy="153.3" r="2.85"/>
<circle cx="99.1" cy="154.6" r="2.85"/>
<circle cx="104" cy="161.1" r="2.85"/>
<circle cx="109.3" cy="165.2" r="2.85"/>
<circle cx="114.3" cy="161.1" r="2.85"/>
<circle cx="119.6" cy="164.4" r="2.85"/>
<circle cx="124.9" cy="167.7" r="2.85"/>
<circle cx="130.2" cy="165.2" r="2.85"/>
<circle cx="135.2" cy="167.8" r="2.85"/>
<circle cx="140.5" cy="167.2" r="2.85"/>
<circle cx="145.7" cy="172.4" r="2.85"/>
<circle cx="150.3" cy="160.8" r="2.85"/>
<circle cx="155.8" cy="156.2" r="2.85"/>
<circle cx="161" cy="160.5" r="2.85"/>
<circle cx="166.4" cy="161.5" r="2.85"/>
<circle cx="171.5" cy="156.1" r="2.85"/>
<circle cx="176.6" cy="151.2" r="2.85"/>
<circle cx="181.8" cy="154.7" r="2.85"/>
<circle cx="186.9" cy="155.7" r="2.85"/>
<circle cx="192" cy="147.5" r="2.85"/>
<circle cx="197.5" cy="146.5" r="2.85"/>
<circle cx="202.9" cy="147.1" r="2.85"/>
<circle cx="208" cy="141" r="2.85"/>
<circle cx="213.1" cy="141.8" r="2.85"/>
<circle cx="218.2" cy="141.8" r="2.85"/>
<circle cx="223.4" cy="131.8" r="2.85"/>
<circle cx="228.5" cy="121.7" r="2.85"/>
<circle cx="233.6" cy="115.1" r="2.85"/>
<circle cx="238.7" cy="120.3" r="2.85"/>
<circle cx="243.9" cy="116.2" r="2.85"/>
<circle cx="249.1" cy="113.1" r="2.85"/>
<circle cx="254.2" cy="112.1" r="2.85"/>
<circle cx="259.3" cy="109" r="2.85"/>
<circle cx="264.9" cy="112.7" r="2.85"/>
<circle cx="270" cy="114.1" r="2.85"/>
<circle cx="275.3" cy="115.5" r="2.85"/>
<circle cx="280.5" cy="110.4" r="2.85"/>
<circle cx="285.6" cy="114.1" r="2.85"/>
<circle cx="290.7" cy="112.1" r="2.85"/>
<circle cx="295.8" cy="109" r="2.85"/>
<circle cx="300.9" cy="108" r="2.85"/>
<circle cx="306.4" cy="110.1" r="2.85"/>
<circle cx="311.8" cy="117.3" r="2.85"/>
<circle cx="316.8" cy="131.7" r="2.85"/>
<circle cx="321.9" cy="126.6" r="2.85"/>
<circle cx="327" cy="131.1" r="2.85"/>
<circle cx="332.3" cy="131.9" r="2.85"/>
<circle cx="337.3" cy="135.2" r="2.85"/>
<circle cx="342.4" cy="134.4" r="2.85"/>
<circle cx="347.7" cy="136.5" r="2.85"/>
<circle cx="353.2" cy="139.9" r="2.85"/>
<circle cx="358.2" cy="155.7" r="2.85"/>
<circle cx="363.6" cy="154.7" r="2.85"/>
<circle cx="368.7" cy="151.6" r="2.85"/>
<circle cx="373.8" cy="150" r="2.85"/>
<circle cx="378.9" cy="156.8" r="2.85"/>
<circle cx="384.1" cy="155.3" r="2.85"/>
<circle cx="389.2" cy="160.9" r="2.85"/>
<circle cx="394.3" cy="156.1" r="2.85"/>
<circle cx="399.4" cy="155.3" r="2.85"/>
<circle cx="404.5" cy="157.4" r="2.85"/>
<circle cx="410.1" cy="159.8" r="2.85"/>
<circle cx="415.4" cy="157.8" r="2.85"/>
<circle cx="420.5" cy="165" r="2.85"/>
<circle cx="425.7" cy="156.8" r="2.85"/>
<circle cx="430.8" cy="155.7" r="2.85"/>
<circle cx="435.9" cy="151.2" r="2.85"/>
<circle cx="441.1" cy="147.1" r="2.85"/>
<circle cx="446.3" cy="149.2" r="2.85"/>
<circle cx="451.4" cy="157.4" r="2.85"/>
<circle cx="456.5" cy="149.6" r="2.85"/>
<circle cx="461.6" cy="140.4" r="2.85"/>
<circle cx="466.8" cy="136.9" r="2.85"/>
<circle cx="471.9" cy="135.2" r="2.85"/>
<circle cx="477.4" cy="132.8" r="2.85"/>
<circle cx="482.7" cy="126" r="2.85"/>
<circle cx="487.9" cy="124.4" r="2.85"/>
<circle cx="493" cy="122.9" r="2.85"/>
<circle cx="498.5" cy="124.4" r="2.85"/>
<circle cx="503.2" cy="117.2" r="2.85"/>
<circle cx="508.4" cy="114.7" r="2.85"/>
<circle cx="513.5" cy="111.4" r="2.85"/>
<circle cx="519" cy="107.5" r="2.85"/>
</g>
<g stroke="#3a3a3a" stroke-width="0.9" fill="none">
<path d="M57.4,71.5 H519.6 V240.6 H57.4 Z"/>
<line x1="54" y1="240.6" x2="57.4" y2="240.6"/>
<line x1="54" y1="192.2" x2="57.4" y2="192.2"/>
<line x1="54" y1="143.9" x2="57.4" y2="143.9"/>
<line x1="54" y1="95.5" x2="57.4" y2="95.5"/>
<line x1="519.6" y1="240.6" x2="523" y2="240.6"/>
<line x1="519.6" y1="184.2" x2="523" y2="184.2"/>
<line x1="519.6" y1="127.9" x2="523" y2="127.9"/>
<line x1="519.6" y1="71.5" x2="523" y2="71.5"/>
<line x1="586.6" y1="70.8" x2="586.6" y2="240.2"/>
<line x1="586.6" y1="240.2" x2="590" y2="240.2"/>
<line x1="586.6" y1="206.3" x2="590" y2="206.3"/>
<line x1="586.6" y1="172.4" x2="590" y2="172.4"/>
<line x1="586.6" y1="138.6" x2="590" y2="138.6"/>
<line x1="586.6" y1="104.7" x2="590" y2="104.7"/>
<line x1="586.6" y1="70.8" x2="590" y2="70.8"/>
<line x1="646.8" y1="70.8" x2="646.8" y2="238.6"/>
<line x1="646.8" y1="238.6" x2="650.2" y2="238.6"/>
<line x1="646.8" y1="210.6" x2="650.2" y2="210.6"/>
<line x1="646.8" y1="182.7" x2="650.2" y2="182.7"/>
<line x1="646.8" y1="154.7" x2="650.2" y2="154.7"/>
<line x1="646.8" y1="126.7" x2="650.2" y2="126.7"/>
<line x1="646.8" y1="98.8" x2="650.2" y2="98.8"/>
<line x1="646.8" y1="70.8" x2="650.2" y2="70.8"/>
</g>
<g stroke="#3a3a3a" stroke-width="0.9">
<line x1="57.50" y1="240.6" x2="57.50" y2="244.4"/>
<line x1="80.48" y1="240.6" x2="80.48" y2="244.4"/>
<line x1="102.73" y1="240.6" x2="102.73" y2="244.4"/>
<line x1="125.71" y1="240.6" x2="125.71" y2="244.4"/>
<line x1="148.70" y1="240.6" x2="148.70" y2="244.4"/>
<line x1="169.46" y1="240.6" x2="169.46" y2="244.4"/>
<line x1="192.44" y1="240.6" x2="192.44" y2="244.4"/>
<line x1="214.69" y1="240.6" x2="214.69" y2="244.4"/>
<line x1="237.67" y1="240.6" x2="237.67" y2="244.4"/>
<line x1="259.92" y1="240.6" x2="259.92" y2="244.4"/>
<line x1="282.90" y1="240.6" x2="282.90" y2="244.4"/>
<line x1="305.88" y1="240.6" x2="305.88" y2="244.4"/>
<line x1="328.13" y1="240.6" x2="328.13" y2="244.4"/>
<line x1="351.11" y1="240.6" x2="351.11" y2="244.4"/>
<line x1="373.36" y1="240.6" x2="373.36" y2="244.4"/>
<line x1="396.34" y1="240.6" x2="396.34" y2="244.4"/>
<line x1="419.33" y1="240.6" x2="419.33" y2="244.4"/>
<line x1="440.09" y1="240.6" x2="440.09" y2="244.4"/>
<line x1="463.07" y1="240.6" x2="463.07" y2="244.4"/>
<line x1="485.32" y1="240.6" x2="485.32" y2="244.4"/>
<line x1="508.30" y1="240.6" x2="508.30" y2="244.4"/>
</g>
<text x="62.80" y="254.6" font-size="11.2" letter-spacing="0.8" fill="#222" text-anchor="end" transform="rotate(-45 62.80 254.6)" style="font-family:'Liberation Sans',sans-serif">Oct 2020</text>
<text x="85.78" y="254.6" font-size="11.2" letter-spacing="0.8" fill="#222" text-anchor="end" transform="rotate(-45 85.78 254.6)" style="font-family:'Liberation Sans',sans-serif">Nov 2020</text>
<text x="108.03" y="254.6" font-size="11.2" letter-spacing="0.8" fill="#222" text-anchor="end" transform="rotate(-45 108.03 254.6)" style="font-family:'Liberation Sans',sans-serif">Dec 2020</text>
<text x="131.01" y="254.6" font-size="11.2" letter-spacing="0.8" fill="#222" text-anchor="end" transform="rotate(-45 131.01 254.6)" style="font-family:'Liberation Sans',sans-serif">Jan 2021</text>
<text x="154.00" y="254.6" font-size="11.2" letter-spacing="0.8" fill="#222" text-anchor="end" transform="rotate(-45 154.00 254.6)" style="font-family:'Liberation Sans',sans-serif">Feb 2021</text>
<text x="174.76" y="254.6" font-size="11.2" letter-spacing="0.8" fill="#222" text-anchor="end" transform="rotate(-45 174.76 254.6)" style="font-family:'Liberation Sans',sans-serif">Mar 2021</text>
<text x="197.74" y="254.6" font-size="11.2" letter-spacing="0.8" fill="#222" text-anchor="end" transform="rotate(-45 197.74 254.6)" style="font-family:'Liberation Sans',sans-serif">Apr 2021</text>
<text x="219.99" y="254.6" font-size="11.2" letter-spacing="0.8" fill="#222" text-anchor="end" transform="rotate(-45 219.99 254.6)" style="font-family:'Liberation Sans',sans-serif">May 2021</text>
<text x="242.97" y="254.6" font-size="11.2" letter-spacing="0.8" fill="#222" text-anchor="end" transform="rotate(-45 242.97 254.6)" style="font-family:'Liberation Sans',sans-serif">Jun 2021</text>
<text x="265.22" y="254.6" font-size="11.2" letter-spacing="0.8" fill="#222" text-anchor="end" transform="rotate(-45 265.22 254.6)" style="font-family:'Liberation Sans',sans-serif">Jul 2021</text>
<text x="288.20" y="254.6" font-size="11.2" letter-spacing="0.8" fill="#222" text-anchor="end" transform="rotate(-45 288.20 254.6)" style="font-family:'Liberation Sans',sans-serif">Aug 2021</text>
<text x="311.18" y="254.6" font-size="11.2" letter-spacing="0.8" fill="#222" text-anchor="end" transform="rotate(-45 311.18 254.6)" style="font-family:'Liberation Sans',sans-serif">Sep 2021</text>
<text x="333.43" y="254.6" font-size="11.2" letter-spacing="0.8" fill="#222" text-anchor="end" transform="rotate(-45 333.43 254.6)" style="font-family:'Liberation Sans',sans-serif">Oct 2021</text>
<text x="356.41" y="254.6" font-size="11.2" letter-spacing="0.8" fill="#222" text-anchor="end" transform="rotate(-45 356.41 254.6)" style="font-family:'Liberation Sans',sans-serif">Nov 2021</text>
<text x="378.66" y="254.6" font-size="11.2" letter-spacing="0.8" fill="#222" text-anchor="end" transform="rotate(-45 378.66 254.6)" style="font-family:'Liberation Sans',sans-serif">Dec 2021</text>
<text x="401.64" y="254.6" font-size="11.2" letter-spacing="0.8" fill="#222" text-anchor="end" transform="rotate(-45 401.64 254.6)" style="font-family:'Liberation Sans',sans-serif">Jan 2022</text>
<text x="424.63" y="254.6" font-size="11.2" letter-spacing="0.8" fill="#222" text-anchor="end" transform="rotate(-45 424.63 254.6)" style="font-family:'Liberation Sans',sans-serif">Feb 2022</text>
<text x="445.39" y="254.6" font-size="11.2" letter-spacing="0.8" fill="#222" text-anchor="end" transform="rotate(-45 445.39 254.6)" style="font-family:'Liberation Sans',sans-serif">Mar 2022</text>
<text x="468.37" y="254.6" font-size="11.2" letter-spacing="0.8" fill="#222" text-anchor="end" transform="rotate(-45 468.37 254.6)" style="font-family:'Liberation Sans',sans-serif">Apr 2022</text>
<text x="490.62" y="254.6" font-size="11.2" letter-spacing="0.8" fill="#222" text-anchor="end" transform="rotate(-45 490.62 254.6)" style="font-family:'Liberation Sans',sans-serif">May 2022</text>
<text x="513.60" y="254.6" font-size="11.2" letter-spacing="0.8" fill="#222" text-anchor="end" transform="rotate(-45 513.60 254.6)" style="font-family:'Liberation Sans',sans-serif">Jun 2022</text>
<text x="49.2" y="244.8" font-size="10" fill="#222" text-anchor="end" style="font-family:'Liberation Sans',sans-serif">0</text>
<text x="49.2" y="196.4" font-size="10" fill="#222" text-anchor="end" style="font-family:'Liberation Sans',sans-serif">1</text>
<text x="49.2" y="148.1" font-size="10" fill="#222" text-anchor="end" style="font-family:'Liberation Sans',sans-serif">2</text>
<text x="49.2" y="99.7" font-size="10" fill="#222" text-anchor="end" style="font-family:'Liberation Sans',sans-serif">3</text>
<text x="527.9" y="244.8" font-size="10" fill="#222" text-anchor="start" style="font-family:'Liberation Sans',sans-serif">0</text>
<text x="527.9" y="188.4" font-size="10" fill="#222" text-anchor="start" style="font-family:'Liberation Sans',sans-serif">50</text>
<text x="527.9" y="132.1" font-size="10" fill="#222" text-anchor="start" style="font-family:'Liberation Sans',sans-serif">100</text>
<text x="527.9" y="75.7" font-size="10" fill="#222" text-anchor="start" style="font-family:'Liberation Sans',sans-serif">150</text>
<text x="594.3" y="244.4" font-size="10" fill="#222" text-anchor="start" style="font-family:'Liberation Sans',sans-serif">0</text>
<text x="594.3" y="210.5" font-size="10" fill="#222" text-anchor="start" style="font-family:'Liberation Sans',sans-serif">0.3</text>
<text x="594.3" y="176.6" font-size="10" fill="#222" text-anchor="start" style="font-family:'Liberation Sans',sans-serif">0.6</text>
<text x="594.3" y="142.8" font-size="10" fill="#222" text-anchor="start" style="font-family:'Liberation Sans',sans-serif">0.9</text>
<text x="594.3" y="108.9" font-size="10" fill="#222" text-anchor="start" style="font-family:'Liberation Sans',sans-serif">1.2</text>
<text x="594.3" y="75.0" font-size="10" fill="#222" text-anchor="start" style="font-family:'Liberation Sans',sans-serif">1.5</text>
<text x="654.2" y="242.8" font-size="10" fill="#222" text-anchor="start" style="font-family:'Liberation Sans',sans-serif">0</text>
<text x="654.2" y="214.8" font-size="10" fill="#222" text-anchor="start" style="font-family:'Liberation Sans',sans-serif">5</text>
<text x="654.2" y="186.9" font-size="10" fill="#222" text-anchor="start" style="font-family:'Liberation Sans',sans-serif">10</text>
<text x="654.2" y="158.9" font-size="10" fill="#222" text-anchor="start" style="font-family:'Liberation Sans',sans-serif">15</text>
<text x="654.2" y="130.9" font-size="10" fill="#222" text-anchor="start" style="font-family:'Liberation Sans',sans-serif">20</text>
<text x="654.2" y="103.0" font-size="10" fill="#222" text-anchor="start" style="font-family:'Liberation Sans',sans-serif">25</text>
<text x="654.2" y="75.0" font-size="10" fill="#222" text-anchor="start" style="font-family:'Liberation Sans',sans-serif">30</text>
<text transform="translate(12.3 195.8) rotate(-90)" fill="#222"  style="font-family:'Liberation Sans',sans-serif"><tspan font-size="12.0">NH</tspan><tspan font-size="7.2" dy="2.90">4</tspan><tspan font-size="7.2" dy="-9.10">+</tspan><tspan font-size="12.0" dy="6.20"> (mg N l</tspan><tspan font-size="7.2" dy="-6.20">−1</tspan><tspan font-size="12.0" dy="6.20">)</tspan></text>
<text transform="translate(29.7 212.2) rotate(-90)" fill="#222"  style="font-family:'Liberation Sans',sans-serif"><tspan font-size="12.0">Dissolved O</tspan><tspan font-size="7.2" dy="2.90">2</tspan><tspan font-size="12.0" dy="-2.90"> (mg l</tspan><tspan font-size="7.2" dy="-6.00">−1</tspan><tspan font-size="12.0" dy="6.00">)</tspan></text>
<text transform="translate(557.8 118.6) rotate(90)" fill="#222"  style="font-family:'Liberation Sans',sans-serif"><tspan font-size="12.0">N</tspan><tspan font-size="7.2" dy="2.90">2</tspan><tspan font-size="12.0" dy="-2.90">O (kg N d</tspan><tspan font-size="7.2" dy="-6.00">−1</tspan><tspan font-size="12.0" dy="6.00">)</tspan></text>
<text transform="translate(623.6 114.4) rotate(90)" fill="#222"  style="font-family:'Liberation Sans',sans-serif"><tspan font-size="12.0">NO</tspan><tspan font-size="7.2" dy="2.90">2</tspan><tspan font-size="7.2" dy="-8.90">−</tspan><tspan font-size="12.0" dy="6.00"> (mg N l</tspan><tspan font-size="7.2" dy="-6.00">−1</tspan><tspan font-size="12.0" dy="6.00">)</tspan></text>
<text transform="translate(676.2 139.6) rotate(90)" font-size="12" fill="#222" style="font-family:'Liberation Sans',sans-serif"><tspan font-style="italic">T</tspan> (°C)</text>
<text x="327.6" y="88.0" fill="#b5d32e"  style="font-family:'Liberation Sans',sans-serif"><tspan font-size="12.0">NH</tspan><tspan font-size="8.6" dy="2.90">4</tspan><tspan font-size="8.6" dy="-9.10">+</tspan></text>
<line x1="340.5" y1="90.5" x2="357" y2="117" stroke="#b5d32e" stroke-width="1"/>
<text x="376.2" y="93.0" fill="#5cc363"  style="font-family:'Liberation Sans',sans-serif"><tspan font-size="12.0">O</tspan><tspan font-size="8.6" dy="2.90">2</tspan></text>
<line x1="374.6" y1="96.5" x2="366.2" y2="113.5" stroke="#5cc363" stroke-width="1"/>
<text x="400.4" y="109.9" fill="#2fa597"  style="font-family:'Liberation Sans',sans-serif"><tspan font-size="12.0">NO</tspan><tspan font-size="8.6" dy="2.90">2</tspan><tspan font-size="8.6" dy="-9.10">−</tspan></text>
<line x1="397.4" y1="111.5" x2="380" y2="138" stroke="#2fa597" stroke-width="1"/>
<text x="412.2" y="132.0" fill="#3d6c9c"  style="font-family:'Liberation Sans',sans-serif"><tspan font-size="12.0">N</tspan><tspan font-size="8.6" dy="2.90">2</tspan><tspan font-size="12.0" dy="-2.90">O</tspan></text>
<line x1="407.6" y1="134" x2="395" y2="149" stroke="#3d6c9c" stroke-width="1"/>
<text x="300.6" y="83.8" font-size="11" fill="#222" font-style="italic" style="font-family:'Liberation Sans',sans-serif">T</text>
<line x1="303.9" y1="86" x2="299.2" y2="103.4" stroke="#222" stroke-width="1.1"/>
</svg>
</body></html>
